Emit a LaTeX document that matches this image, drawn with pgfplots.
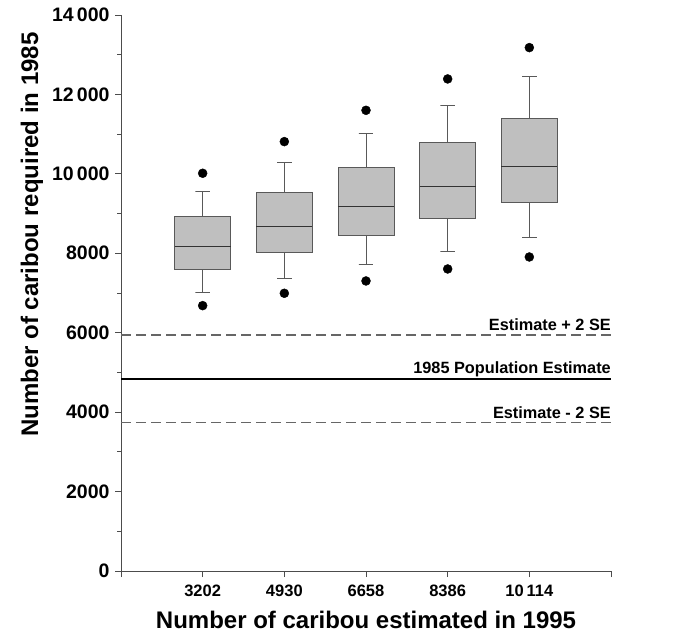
\documentclass[border=0pt]{standalone}
\usepackage{pgfplots}
\pgfplotsset{compat=1.18}
\usetikzlibrary{calc}
\usepackage{fontspec}
\setmainfont{Liberation Sans}
\begin{document}
\begin{tikzpicture}
\begin{axis}[
  width=490bp, height=556bp, scale only axis,
  xmin=0, xmax=6, ymin=0, ymax=14000,
  scaled y ticks=false,
  axis x line=bottom, axis y line=left,
  axis line style={-, draw=black!70, line width=0.9pt},
  xtick={0,1,2,3,4,5,6},
  xticklabels={,3202,4930,6658,8386,10\,114,},
  ytick={0,2000,4000,6000,8000,10000,12000,14000},
  yticklabels={0,2000,4000,6000,8000,10\,000,12\,000,14\,000},
  minor ytick={1000,3000,5000,7000,9000,11000,13000},
  tick align=outside,
  major tick length=6bp, minor tick length=4bp,
  tick style={draw=black!70, line width=0.9pt},
  xticklabel style={font=\fontsize{16.5bp}{18bp}\selectfont\bfseries, yshift=-4bp},
  yticklabel style={font=\fontsize{19.5bp}{21bp}\selectfont\bfseries, xshift=-2bp},
  xlabel={Number of caribou estimated in 1995},
  ylabel={Number of caribou required in 1985},
  xlabel style={font=\fontsize{24bp}{26bp}\selectfont\bfseries, yshift=-8bp},
  ylabel style={font=\fontsize{24bp}{26bp}\selectfont\bfseries, at={(ticklabel cs:0.605)}, yshift=2bp},
  clip=false,
  box/.style={draw=black!65, fill=black!25, line width=0.9pt},
  med/.style={draw=black!80, line width=0.9pt},
  whisk/.style={draw=black!65, line width=0.9pt},
]
% reference lines
\addplot[draw=black!60, line width=1.2pt, dash pattern=on 10bp off 5bp] coordinates {(0,5943) (6,5943)};
\addplot[draw=black, line width=1.8pt] coordinates {(0,4835) (6,4835)};
\addplot[draw=black!60, line width=1.2pt, dash pattern=on 10bp off 5bp] coordinates {(0,3744) (6,3744)};
\node[anchor=base east, inner sep=0pt, yshift=4bp, font=\fontsize{16.3bp}{18bp}\selectfont\bfseries] at (axis cs:6,5943) {Estimate + 2 SE};
\node[anchor=base east, inner sep=0pt, yshift=5bp, font=\fontsize{16.3bp}{18bp}\selectfont\bfseries] at (axis cs:6,4835) {1985 Population Estimate};
\node[anchor=base east, inner sep=0pt, yshift=4bp, font=\fontsize{16.3bp}{18bp}\selectfont\bfseries] at (axis cs:6,3744) {Estimate - 2 SE};
% box 1 (3202)
\addplot[whisk] coordinates {(1,8922) (1,9569) (0.912,9569) (1.088,9569)};
\addplot[whisk] coordinates {(1,7597) (1,7018) (0.912,7018) (1.088,7018)};
\addplot[box] coordinates {(0.6565,7597) (1.3435,7597) (1.3435,8922) (0.6565,8922)} -- cycle;
\addplot[med] coordinates {(0.6565,8184) (1.3435,8184)};
% box 2 (4930)
\addplot[whisk] coordinates {(2,9536) (2,10291) (1.912,10291) (2.088,10291)};
\addplot[whisk] coordinates {(2,8025) (2,7362) (1.912,7362) (2.088,7362)};
\addplot[box] coordinates {(1.6565,8025) (2.3435,8025) (2.3435,9536) (1.6565,9536)} -- cycle;
\addplot[med] coordinates {(1.6565,8680) (2.3435,8680)};
% box 3 (6658)
\addplot[whisk] coordinates {(3,10165) (3,11013) (2.912,11013) (3.088,11013)};
\addplot[whisk] coordinates {(3,8453) (3,7714) (2.912,7714) (3.088,7714)};
\addplot[box] coordinates {(2.6565,8453) (3.3435,8453) (3.3435,10165) (2.6565,10165)} -- cycle;
\addplot[med] coordinates {(2.6565,9183) (3.3435,9183)};
% box 4 (8386)
\addplot[whisk] coordinates {(4,10787) (4,11727) (3.912,11727) (4.088,11727)};
\addplot[whisk] coordinates {(4,8881) (4,8050) (3.912,8050) (4.088,8050)};
\addplot[box] coordinates {(3.6565,8881) (4.3435,8881) (4.3435,10787) (3.6565,10787)} -- cycle;
\addplot[med] coordinates {(3.6565,9687) (4.3435,9687)};
% box 5 (10114)
\addplot[whisk] coordinates {(5,11400) (5,12448) (4.912,12448) (5.088,12448)};
\addplot[whisk] coordinates {(5,9292) (5,8411) (4.912,8411) (5.088,8411)};
\addplot[box] coordinates {(4.6565,9292) (5.3435,9292) (5.3435,11400) (4.6565,11400)} -- cycle;
\addplot[med] coordinates {(4.6565,10190) (5.3435,10190)};
% outlying points (5th / 95th percentiles)
\addplot[only marks, mark=*, mark size=4.5bp, mark options={fill=black, draw=black}] coordinates {
  (1,10015) (1,6682)
  (2,10812) (2,6993)
  (3,11600) (3,7303)
  (4,12390) (4,7605)
  (5,13179) (5,7907)
};
\end{axis}
\path ($(current axis.south west)+(-121bp,-66bp)$) rectangle ($(current axis.north east)+(81bp,15bp)$);
\end{tikzpicture}
\end{document}
